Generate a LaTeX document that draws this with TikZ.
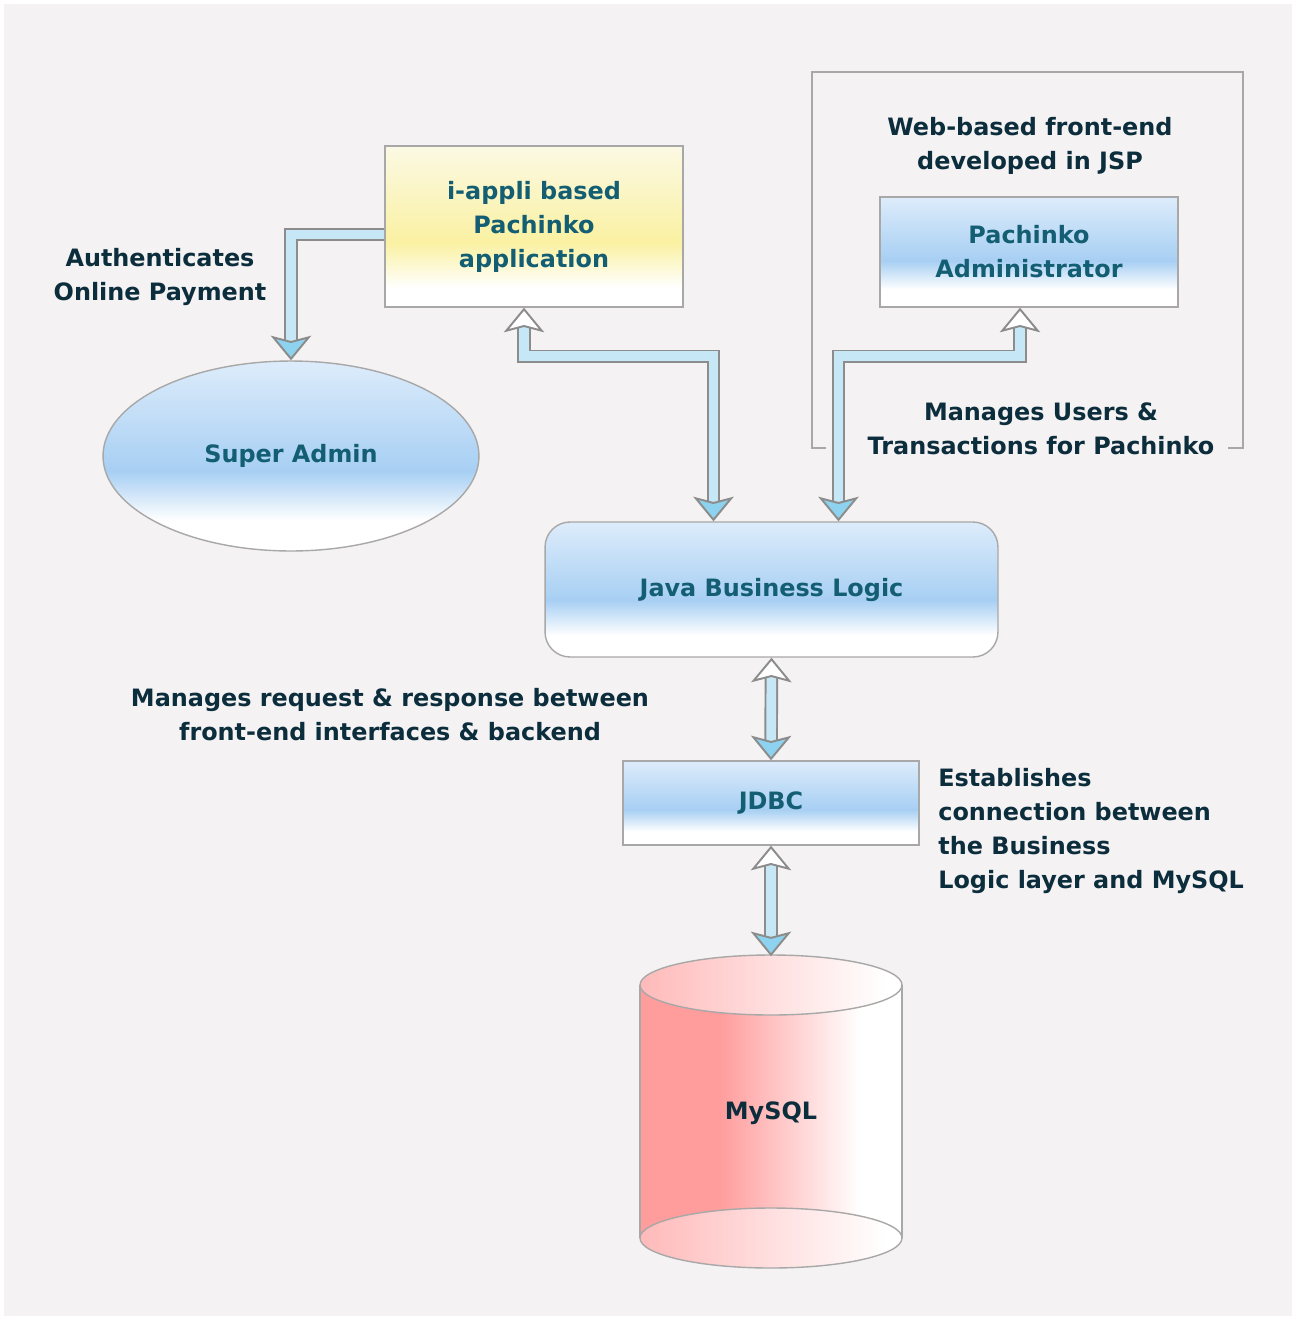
\documentclass[tikz,border=0pt]{standalone}
\usepackage{fontspec}
\setmainfont{DejaVu Sans}
\usetikzlibrary{arrows.meta,positioning,shapes.geometric,calc}

\definecolor{bggray}{HTML}{F4F2F3}
\definecolor{linegray}{HTML}{A8A8A8}
\definecolor{pipegray}{HTML}{8C8C8C}
\definecolor{pipefill}{HTML}{C6E8F6}
\definecolor{headblue}{HTML}{8DD2EE}
\definecolor{barlight}{HTML}{DDECFB}
\definecolor{barblue}{HTML}{A7CFF3}
\definecolor{yellight}{HTML}{FBF9E4}
\definecolor{yelband}{HTML}{FAF1A2}
\definecolor{dbred}{HTML}{FF9C9C}
\definecolor{boxtext}{HTML}{135E72}
\definecolor{notetext}{HTML}{0C2D3C}

% shadings for boxes and the database
\pgfdeclareverticalshading{bluebar}{100bp}{color(0bp)=(white); color(25bp)=(white); color(33bp)=(white); color(46bp)=(barblue); color(75bp)=(barlight); color(100bp)=(barlight)}
\pgfdeclareverticalshading{yelbar}{100bp}{color(0bp)=(white); color(25bp)=(white); color(31bp)=(white); color(45bp)=(yelband); color(75bp)=(yellight); color(100bp)=(yellight)}
\pgfdeclarehorizontalshading{dbbody}{100bp}{color(0bp)=(dbred); color(25bp)=(dbred); color(40bp)=(dbred); color(67bp)=(white); color(100bp)=(white)}
\pgfdeclarehorizontalshading{dbend}{100bp}{color(0bp)=(dbred!70); color(25bp)=(dbred!70); color(72bp)=(white); color(100bp)=(white)}

\newcommand\lblfont{\fontsize{13.6}{19.3}\selectfont\bfseries}

\tikzset{
    %Define arrow tips of the pipes
    headup/.tip={Stealth[length=14pt,width=23pt,inset=3pt,line width=1.1pt,fill=white]},
    headdn/.tip={Stealth[length=14pt,width=23pt,inset=3pt,line width=1.1pt,fill=headblue]},
    %Define style for boxes
    box/.style={
           rectangle,
           draw=linegray, line width=0.8pt,
           inner sep=0pt,
           font=\lblfont, text=boxtext,
           align=center,
           shade, shading=bluebar},
    ybox/.style={
           box,
           shading=yelbar},
    % Define style for free texts
    note/.style={
           font=\lblfont, text=notetext,
           align=center,
           inner sep=0pt},
    % Define pipe style
    pipe/.style={
           draw=pipegray, line width=1.1pt,
           double=pipefill, double distance=5.5pt}
}

\begin{document}
\begin{tikzpicture}[x=0.02cm,y=-0.02cm]
\useasboundingbox (0,0) rectangle (1295,1319);
\fill[white] (0,0) rectangle (1295,1319);
\fill[bggray] (4,4) rectangle (1292,1316);
% frame of the web front-end
\draw[linegray, line width=0.8pt] (826,448) -- (812,448) -- (812,72) -- (1243,72) -- (1243,448) -- (1228,448);
% database cylinder
\shade[shading=dbbody] (640,985) -- (640,1238) arc[start angle=180,end angle=0,x radius=131,y radius=30]
    -- (902,985) arc[start angle=0,end angle=-180,x radius=131,y radius=30] -- cycle;
\shadedraw[shading=dbend, draw=linegray, line width=0.8pt] (771,1238) ellipse[x radius=131,y radius=30];
\shadedraw[shading=dbend, draw=linegray, line width=0.8pt] (771,985) ellipse[x radius=131,y radius=30];
\draw[linegray, line width=0.8pt] (640,985) -- (640,1238) (902,985) -- (902,1238);
 %nodes
\node[ybox, minimum width=5.96cm, minimum height=3.22cm] (iappli) at (534,226.5) {i-appli based\\Pachinko\\application};
\node[box, minimum width=5.96cm, minimum height=2.2cm] (padmin) at (1029,252) {Pachinko\\Administrator};
\node[box, ellipse, minimum width=7.52cm, minimum height=3.8cm] (supadmin) at (291,456) {Super Admin};
\node[box, rounded corners=0.5cm, minimum width=9.06cm, minimum height=2.7cm] (jbl) at (771.5,589.5) {Java Business Logic};
\node[box, minimum width=5.92cm, minimum height=1.68cm] (jdbc) at (771,803) {JDBC};
\node[note, minimum width=5.24cm, minimum height=6.26cm] (mysql) at (771,1113) {MySQL};
 %texts
\node[note] (auth) at (160,277) {Authenticates\\Online Payment};
\node[note] (webfe) at (1030,146) {Web-based front-end\\developed in JSP};
\node[note] (mgusers) at (1041,429) {Manages Users \&\\Transactions for Pachinko};
\node[note] (mgreq) at (390,715) {Manages request \& response between\\front-end interfaces \& backend};
\node[note, align=left, anchor=west] (estab) at (938,831) {Establishes\\connection between\\the Business\\Logic layer and MySQL};
 %pipes
\draw[pipe, arrows={-headdn}] ([yshift=-0.16cm]iappli.west) -| (supadmin.north);
\draw[pipe, arrows={headup-headdn}] ($(iappli.south)+(-10,0)$) |- ($(jbl.north)+(-58,-165)$) -- ($(jbl.north)+(-58,0)$);
\draw[pipe, arrows={headup-headdn}] ($(padmin.south)+(-9,0)$) |- ($(jbl.north)+(67,-165)$) -- ($(jbl.north)+(67,0)$);
\draw[pipe, arrows={headup-headdn}] (jbl.south) -- (jdbc.north);
\draw[pipe, arrows={headup-headdn}] (jdbc.south) -- (mysql.north);
\end{tikzpicture}
\end{document}
